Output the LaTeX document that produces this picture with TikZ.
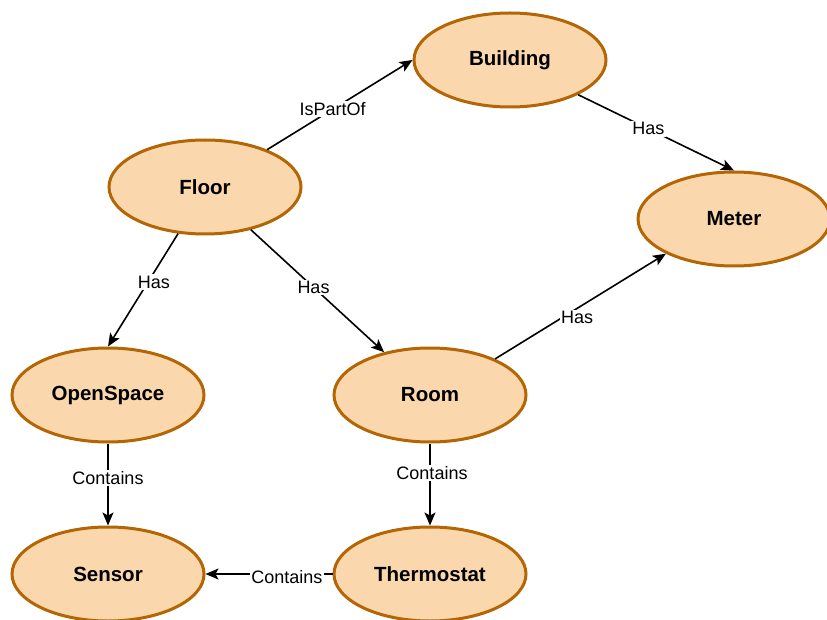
\documentclass[tikz,border=0pt]{standalone}
\usepackage{fontspec}
\setmainfont{Liberation Sans}
\usetikzlibrary{shapes.geometric,arrows.meta}
\definecolor{conceptfill}{HTML}{FAD7AC}
\definecolor{conceptline}{HTML}{B46504}
\begin{document}
\begin{tikzpicture}[x=1pt,y=-1pt,
  concept/.style={ellipse,draw=conceptline,fill=conceptfill,line width=3pt,
    minimum width=192pt,minimum height=94pt,inner sep=0pt,
    font=\fontsize{20.5}{24}\selectfont\bfseries},
  relation/.style={draw=black,line width=1.6pt,-{Stealth[length=13pt,width=11pt,inset=3pt]}},
  rellabel/.style={fill=white,inner sep=1.5pt,font=\fontsize{18}{21}\selectfont}]
\useasboundingbox (0,0) rectangle (827,620);
\clip (0,0) rectangle (827,620);

% concepts
\node[concept] (building) at (510,60) {Building};
\node[concept] (floor) at (205,187) {Floor};
\node[concept] (meter) at (734,219) {Meter};
\node[concept] (openspace) at (108,395) {OpenSpace};
\node[concept] (room) at (430,395) {Room};
\node[concept] (sensor) at (108,574) {Sensor};
\node[concept] (thermostat) at (430,574) {Thermostat};

% relations
\draw[relation] (floor.31) -- node[rellabel,pos=0.45] {IsPartOf} (building.west);
\draw[relation] (building.-27) -- node[rellabel,pos=0.45] {Has} (meter.north);
\draw[relation] (floor.-120) -- node[rellabel,pos=0.43,xshift=6pt] {Has} (openspace.north);
\draw[relation] (floor.-43) -- node[rellabel,pos=0.47] {Has} (room.137);
\draw[relation] (room.29) -- node[rellabel,pos=0.48,yshift=-9pt] {Has} (meter.207);
\draw[relation] (openspace.south) -- node[rellabel,pos=0.42] {Contains} (sensor.north);
\draw[relation] (room.south) -- node[rellabel,pos=0.36,xshift=2pt] {Contains} (thermostat.north);
\draw[relation] (thermostat.west) -- node[rellabel,pos=0.36,yshift=-3pt] {Contains} (sensor.east);
\end{tikzpicture}
\end{document}
